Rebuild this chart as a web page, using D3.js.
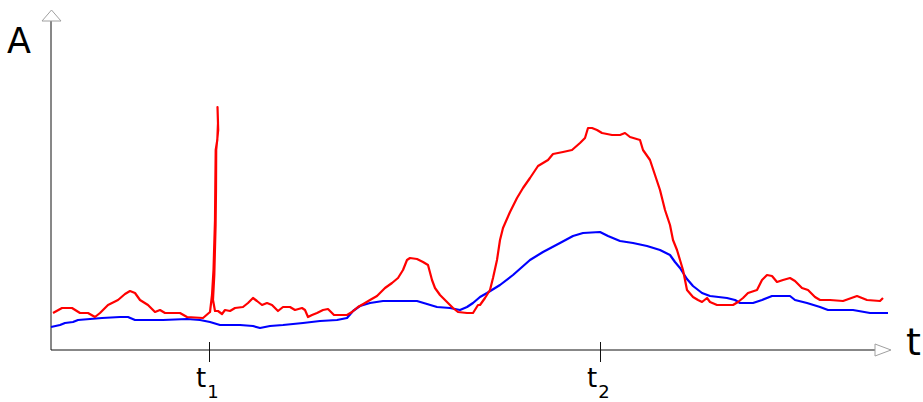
<!DOCTYPE html>
<html>
<head>
<meta charset="utf-8">
<script src="https://cdn.jsdelivr.net/npm/d3@7"></script>
<style>
  html, body { margin: 0; padding: 0; background: #fff; }
  svg { display: block; font-family: "DejaVu Sans", Verdana, sans-serif; }
</style>
</head>
<body>
<svg id="chart" width="923" height="402"></svg>
<script>
// Time samples and amplitudes of the measured (red) signal
const redT = [2, 11, 21, 29, 37, 44, 49, 57, 67, 74, 79, 84, 89, 97, 104, 109, 114, 129, 136, 152, 159,
  161, 162.5, 164, 164.3, 164.7, 166.3, 167, 166.5,
  167.2, 165.2, 165, 164.6, 163.3, 162, 164,
  167, 171, 174, 179, 184, 192, 197, 202, 206, 211, 216, 221, 227, 232, 239, 244, 251, 254, 257, 261,
  266, 272, 277, 281, 283, 296, 301, 307, 314, 319, 326, 334, 341, 347, 352, 356, 359, 366, 372, 377,
  381, 384, 389, 396, 402, 407, 416, 422, 427, 429, 434, 439, 442, 446, 449, 452, 459, 466, 472, 479,
  487, 497, 502, 512, 521, 529, 534, 537, 541, 546, 551, 561, 569, 574, 579, 589, 592, 599, 604, 609,
  614, 619, 622, 626, 629, 632, 636, 642, 647, 651, 656, 659, 666, 682, 687, 692, 697, 706, 711, 716,
  721, 726, 732, 739, 744, 751, 757, 764, 769, 779, 792, 806, 816, 829, 832];
const redA = [37, 42, 42, 37, 37, 33, 37, 45, 50, 56, 59, 57, 50, 45, 38, 40, 37, 37, 33, 32, 38,
  55, 80, 130, 163, 200, 210, 227, 243,
  220, 200, 160, 125, 75, 50, 39,
  39, 36, 40, 39, 42, 43, 47, 52, 49, 45, 47, 45, 39, 43, 43, 40, 42, 40, 33, 35,
  37, 40, 41, 37, 35, 35, 38, 43, 47, 50, 54, 62, 67, 72, 80, 90, 92, 91, 88, 85,
  70, 62, 55, 48, 42, 38, 37, 37, 45, 45, 52, 60, 72, 90, 110, 122, 138, 152, 162, 172,
  184, 190, 196, 198, 200, 207, 212, 222, 222, 220, 217, 215, 215, 217, 213, 210, 200, 190, 175, 160,
  140, 125, 110, 100, 90, 80, 60, 53, 50, 48, 52, 48, 45, 45, 48, 52, 57, 60, 70, 75,
  74, 68, 70, 72, 69, 62, 60, 53, 50, 50, 49, 54, 50, 49, 52];

// Time samples and amplitudes of the reference (blue) signal
const blueT = [0, 9, 14, 22, 27, 39, 51, 69, 77, 84, 112, 136, 149, 159, 169, 189, 202, 209, 219, 232,
  252, 269, 286, 296, 302, 309, 319, 332, 366, 376, 386, 399, 409, 416, 422, 429, 436, 449, 462, 479,
  492, 509, 522, 532, 549, 557, 569, 582, 596, 609, 619, 624, 629, 636, 642, 651, 659, 676, 684, 689,
  702, 711, 721, 739, 744, 756, 769, 777, 802, 819, 837];
const blueA = [23, 25, 27, 28, 30, 31, 32, 33, 33, 30, 30, 31, 30, 28, 25, 25, 24, 22, 24, 25,
  27, 29, 30, 32, 39, 44, 47, 49, 49, 46, 43, 42, 40, 43, 47, 53, 57, 65, 75, 90,
  98, 107, 114, 117, 118, 114, 109, 107, 104, 100, 95, 88, 82, 71, 64, 57, 54, 52, 50, 47,
  47, 50, 54, 54, 50, 47, 43, 40, 40, 37, 37];

// Marked instants on the time axis
const tickTimes = [158, 549];
const tickSubs = ["1", "2"];
const axisLabelY = "A";
const axisLabelX = "t";

const svg = d3.select("#chart");
const x = d3.scaleLinear().domain([0, 840]).range([51, 891]);
const y = d3.scaleLinear().domain([0, 330]).range([350, 20]);

const toPoints = (ts, as) => ts.map((t, i) => [t, as[i]]);
const line = d3.line().x(d => x(d[0])).y(d => y(d[1]));

// Axes
const axisColor = "#111";
const xAxisEnd = x(824);
svg.append("line").attr("x1", x(0)).attr("x2", xAxisEnd).attr("y1", y(0)).attr("y2", y(0))
  .attr("stroke", axisColor).attr("stroke-width", 1);
svg.append("line").attr("x1", x(0)).attr("x2", x(0)).attr("y1", y(0)).attr("y2", y(329))
  .attr("stroke", axisColor).attr("stroke-width", 1);

// Open arrowheads
const yTop = y(329);
svg.append("path")
  .attr("d", `M${x(0) - 9},${yTop} L${x(0) + 0.5},${yTop - 11} L${x(0) + 10},${yTop} Z`)
  .attr("fill", "#fff").attr("stroke", "#a0a0a0").attr("stroke-width", 1);
svg.append("path")
  .attr("d", `M${xAxisEnd},${y(0) - 6} L${xAxisEnd + 16},${y(0)} L${xAxisEnd},${y(0) + 6} Z`)
  .attr("fill", "#fff").attr("stroke", "#a0a0a0").attr("stroke-width", 1);

// Tick marks crossing the time axis
const xAxis = d3.axisBottom(x).tickValues(tickTimes).tickSize(12).tickFormat("");
const gx = svg.append("g").attr("transform", `translate(0,${y(0)})`).call(xAxis);
gx.select(".domain").remove();
gx.selectAll(".tick line").attr("y1", -8).attr("y2", 12).attr("stroke", axisColor);

// Tick labels with subscripts
tickTimes.forEach((t, i) => {
  const txt = svg.append("text").attr("x", x(t) - 13).attr("y", 387)
    .attr("font-size", 26).attr("fill", "#000");
  txt.append("tspan").text("t");
  txt.append("tspan").attr("dy", 11).attr("dx", 1).attr("font-size", 18).text(tickSubs[i]);
});

// Axis names
svg.append("text").attr("x", 7).attr("y", 53).attr("font-size", 35).attr("fill", "#000").text(axisLabelY);
svg.append("text").attr("x", 906).attr("y", 355).attr("font-size", 38).attr("fill", "#000").text(axisLabelX);

// Signals
svg.append("path").datum(toPoints(blueT, blueA)).attr("d", line)
  .attr("fill", "none").attr("stroke", "#0000ff").attr("stroke-width", 2.2).attr("stroke-linejoin", "round");
svg.append("path").datum(toPoints(redT, redA)).attr("d", line)
  .attr("fill", "none").attr("stroke", "#ff0000").attr("stroke-width", 2.2).attr("stroke-linejoin", "round");
</script>
</body>
</html>
